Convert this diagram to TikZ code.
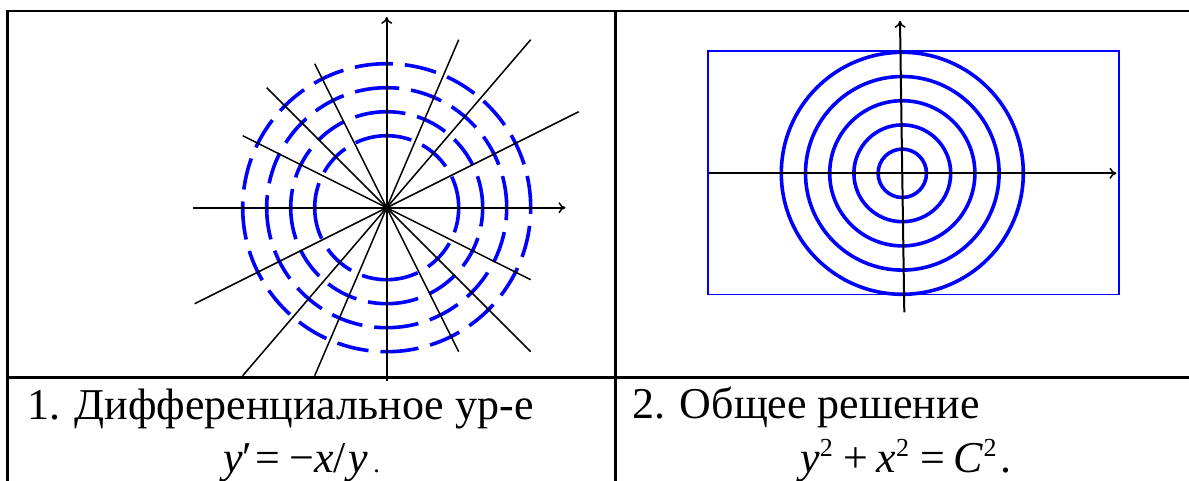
\documentclass[tikz,border=0pt]{standalone}
\usepackage{fontspec}
\setmainfont{Liberation Serif}
\newfontfamily\tnr{Liberation Serif}
\usetikzlibrary{arrows.meta}
\tikzset{
  frame/.style={line width=2.5pt, black},
  axis/.style={line width=2pt, black, -{To[length=7pt,width=11pt,line width=1.5pt]}},
  ray/.style={line width=1.5pt, black},
  dcirc/.style={line width=3.6pt, blue, dash pattern=on 32pt off 12pt},
  scirc/.style={line width=3.6pt, blue},
  bbox/.style={line width=1.4pt, blue},
  txt/.style={anchor=base west, inner sep=0pt, font=\tnr\fontsize{44}{50}\selectfont}
}
\newcommand{\sq}{\raisebox{16pt}{\fontsize{26}{30}\selectfont 2}}
\begin{document}
\begin{tikzpicture}[x=1pt,y=-1pt]
\clip (0,0) rectangle (1189,481);
\fill[white] (0,0) rectangle (1189,481);
% table frame
\coordinate (TL) at (7.5,11);
\coordinate (TR) at (1190,11);
\coordinate (BL) at (7.5,482);
\coordinate (ML) at (7.5,377.7);
\coordinate (MR) at (1190,377.7);
\coordinate (VT) at (615.7,11);
\coordinate (VB) at (615.7,482);
\draw[frame] (BL) -- (TL) -- (TR);
\draw[frame] (ML) -- (MR);
\draw[frame] (VT) -- (VB);
% left panel
\begin{scope}[shift={(386.7,207.7)}, x=24pt, y=24pt]
  \coordinate (O1) at (0,0);
  \foreach \r in {3,4,5,6}{
    \foreach \a in {0,90,180,270}{
      \draw[dcirc] (\a:\r) arc[start angle=\a, end angle=\a+90, radius=\r];
    }
  }
  \draw[ray] (-3,-7) -- (3,7);
  \draw[ray] (-6,-7) -- (6,7);
  \draw[ray] (-8,-4) -- (8,4);
  \draw[ray] (-6,3) -- (6,-3);
  \draw[ray] (-5,5) -- (6,-6);
  \draw[ray] (-3,6) -- (3,-6);
  \coordinate (X1a) at (-8.07,0);
  \coordinate (X1b) at (7.45,0);
  \coordinate (Y1a) at (0,-7.2);
  \coordinate (Y1b) at (0,7.95);
  \draw[axis] (X1a) -- (X1b);
  \draw[axis] (Y1a) -- (Y1b);
\end{scope}
% right panel
\begin{scope}[shift={(902.3,173.3)}, x=24.2pt, y=24.2pt]
  \coordinate (O2) at (0,0);
  \draw[bbox] (-8.03,-5.0) rectangle (8.95,5.05);
  \foreach \r in {1,2,3,4,5}{
    \draw[scirc] (O2) circle[radius=\r];
  }
  \coordinate (X2a) at (-7.99,0);
  \coordinate (X2b) at (8.85,0);
  \coordinate (Y2a) at (0.083,-5.75);
  \coordinate (Y2b) at (-0.095,6.3);
  \draw[axis] (X2a) -- (X2b);
  \draw[axis] (Y2a) -- (Y2b);
\end{scope}
% texts
\node[txt] (t1) at (27,419) {1. Дифференциальное ур-е};
\node[txt] (m1) at (223,472) {\textit{y}′\hspace{3pt}=\hspace{9pt}−\textit{x}/\hspace{3pt}\textit{y}\hspace{5pt}{\fontsize{26}{30}\selectfont .}};
\node[txt] (t2) at (632,418) {2. Общее решение};
\node[txt] (m2) at (800,472) {\textit{y}\sq\hspace{11pt}+\hspace{8pt}\textit{x}\sq\hspace{11pt}=\hspace{9pt}\textit{C}\sq\hspace{4pt}.};
\end{tikzpicture}
\end{document}
